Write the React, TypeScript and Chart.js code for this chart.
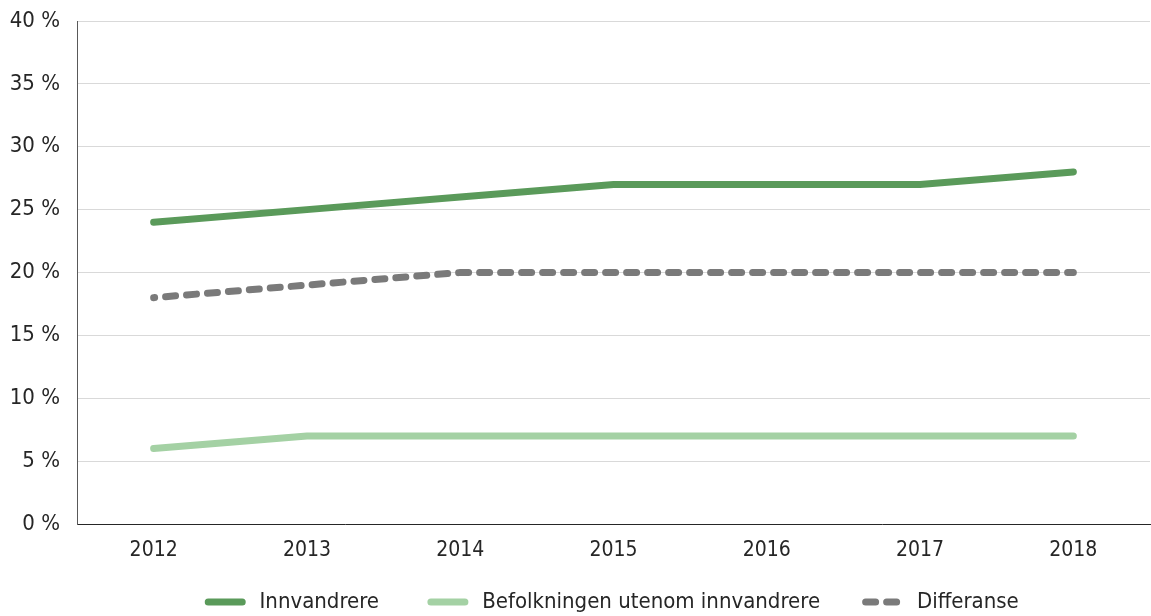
import React, { useEffect, useRef } from "react";
import { Chart, registerables } from "chart.js";

Chart.register(...registerables);

const categories = ["2012", "2013", "2014", "2015", "2016", "2017", "2018"];
const innvandrere = [24, 25, 26, 27, 27, 27, 28];
const befolkningen = [6, 7, 7, 7, 7, 7, 7];
const differanse = [18, 19, 20, 20, 20, 20, 20];
const seriesNames = ["Innvandrere", "Befolkningen utenom innvandrere", "Differanse"];
const legendTrail = ["   ", "  ", ""];

const FONT = "'DejaVu Sans Condensed', 'DejaVu Sans', sans-serif";

export default function App() {
  const ref = useRef<HTMLCanvasElement>(null);
  useEffect(() => {
    document.body.style.margin = "0";
    const ctx = ref.current!;
    const chart = new Chart(ctx, {
      type: "line",
      data: {
        labels: categories,
        datasets: [
          {
            label: seriesNames[0],
            data: innvandrere,
            borderColor: "#5a9a5a",
            backgroundColor: "#5a9a5a",
            borderWidth: 7,
            borderCapStyle: "round",
            pointRadius: 0,
            tension: 0,
          },
          {
            label: seriesNames[1],
            data: befolkningen,
            borderColor: "#a4d1a4",
            backgroundColor: "#a4d1a4",
            borderWidth: 7,
            borderCapStyle: "round",
            pointRadius: 0,
            tension: 0,
          },
          {
            label: seriesNames[2],
            data: differanse,
            borderColor: "#7a7a7a",
            backgroundColor: "#7a7a7a",
            borderWidth: 7,
            borderCapStyle: "round",
            borderDash: [10, 11],
            borderDashOffset: 9,
            pointRadius: 0,
            tension: 0,
          },
        ],
      },
      options: {
        animation: false,
        responsive: false,
        layout: { padding: { top: 21, right: 1, left: 0, bottom: -7 } },
        scales: {
          x: {
            offset: true,
            grid: { display: false },
            border: { display: true, color: "#262626", width: 1 },
            ticks: { color: "#262626", font: { family: FONT, size: 21 }, padding: 6 },
            afterFit: (s: any) => { s.height = 34; },
          },
          y: {
            min: 0,
            max: 40,
            grid: { color: "#d9d9d9", drawTicks: false },
            border: { display: true, color: "#595959", width: 1 },
            ticks: {
              stepSize: 5,
              color: "#262626",
              font: { family: FONT, size: 22 },
              padding: 17,
              callback: (v: any) => v + " %",
            },
            afterFit: (s: any) => {
              s.width = 77;
              s.paddingTop = 0;
              s.paddingBottom = 0;
            },
          },
        },
        plugins: {
          tooltip: { enabled: false },
          legend: {
            position: "bottom",
            fullSize: false,
            labels: {
              usePointStyle: true,
              pointStyle: "line",
              pointStyleWidth: 34,
              padding: 33,
              color: "#262626",
              font: { family: FONT, size: 22 },
              generateLabels: (c: any) =>
                c.data.datasets.map((ds: any, i: number) => ({
                  text: " " + ds.label + legendTrail[i],
                  datasetIndex: i,
                  fillStyle: ds.borderColor,
                  strokeStyle: ds.borderColor,
                  fontColor: "#262626",
                  lineWidth: 7,
                  lineCap: "round",
                  lineDash: ds.borderDash || [],
                  lineDashOffset: 0,
                  pointStyle: "line",
                  hidden: false,
                })),
            },
          },
        },
      },
    });
    return () => chart.destroy();
  }, []);
  return <canvas ref={ref} width={1151} height={616} style={{ display: "block" }} />;
}
